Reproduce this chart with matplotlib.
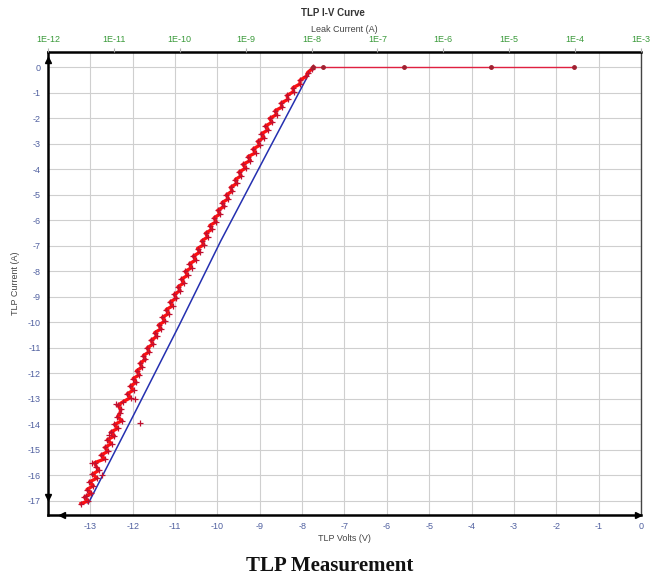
import matplotlib
matplotlib.use("Agg")
import matplotlib.pyplot as plt
from matplotlib.ticker import FixedLocator, FixedFormatter

plt.rcParams["axes.unicode_minus"] = False
plt.rcParams["font.family"] = ["Liberation Sans", "DejaVu Sans"]

# blue reference line (V, A)
blue_volts = [-13.05, -12.0, -10.9, -9.92, -8.78, -7.76]
blue_amps = [-17.1, -13.7, -10.1, -6.8, -3.2, 0.0]

# red measured TLP points (V, A)
red_volts = [
    -13.22, -13.05, -13.14, -12.98, -13.08, -12.93, -13.02, -12.84, -12.95, -12.80,
    -12.86, -12.90, -12.66, -12.75, -12.58, -12.66, -12.50, -12.60, -12.43, -12.52,
    -12.35, -12.43, -12.25, -12.36, -12.30, -12.28, -12.35, -12.22, -12.05, -12.13,
    -11.98, -12.06, -11.92, -11.99, -11.84, -11.91, -11.78, -11.83, -11.70, -11.75,
    -11.61, -11.66, -11.52, -11.57, -11.43, -11.48, -11.33, -11.39, -11.24, -11.30,
    -11.15, -11.21, -11.06, -11.12, -10.97, -11.02, -10.88, -10.93, -10.79, -10.85,
    -10.70, -10.76, -10.61, -10.66, -10.51, -10.57, -10.42, -10.47, -10.32, -10.37,
    -10.23, -10.28, -10.13, -10.18, -10.03, -10.08, -9.94, -9.99, -9.84, -9.89,
    -9.74, -9.79, -9.65, -9.69, -9.54, -9.58, -9.44, -9.49, -9.33, -9.40,
    -9.22, -9.28, -9.10, -9.16, -9.00, -9.05, -8.90, -8.96, -8.80, -8.87,
    -8.71, -8.77, -8.60, -8.64, -8.47, -8.50, -8.33, -8.36, -8.20, -8.22,
    -8.05, -8.05, -7.90, -7.87, -7.76, -7.74,
]
red_amps = [
    -17.10, -17.00, -16.85, -16.70, -16.55, -16.40, -16.25, -16.10, -15.95, -15.80,
    -15.65, -15.50, -15.35, -15.20, -15.05, -14.90, -14.75, -14.60, -14.45, -14.30,
    -14.15, -14.00, -13.85, -13.70, -13.55, -13.40, -13.25, -13.10, -12.95, -12.80,
    -12.65, -12.50, -12.35, -12.20, -12.05, -11.90, -11.75, -11.60, -11.45, -11.30,
    -11.15, -11.00, -10.85, -10.70, -10.55, -10.40, -10.25, -10.10, -9.95, -9.80,
    -9.65, -9.50, -9.35, -9.20, -9.05, -8.90, -8.75, -8.60, -8.45, -8.30,
    -8.15, -8.00, -7.85, -7.70, -7.55, -7.40, -7.25, -7.10, -6.95, -6.80,
    -6.65, -6.50, -6.35, -6.20, -6.05, -5.90, -5.75, -5.60, -5.45, -5.30,
    -5.15, -5.00, -4.85, -4.70, -4.55, -4.40, -4.25, -4.10, -3.95, -3.80,
    -3.65, -3.50, -3.35, -3.20, -3.05, -2.90, -2.75, -2.60, -2.45, -2.30,
    -2.15, -2.00, -1.85, -1.70, -1.55, -1.40, -1.25, -1.10, -0.95, -0.80,
    -0.65, -0.50, -0.35, -0.20, -0.05, 0.00,
]

# scattered stray points near the bottom
stray_volts = [-11.83, -12.40, -12.72, -12.97, -12.55, -11.95, -13.10]
stray_amps = [-13.93, -13.20, -16.00, -15.50, -14.40, -13.00, -16.80]

# flat leakage segment at 0 A
leak_volts = [-7.74, -7.5, -5.59, -3.55, -1.58]
leak_amps = [0.0, 0.0, 0.0, 0.0, 0.0]

volt_ticks = list(range(-13, 1))
amp_ticks = list(range(-17, 1))
leak_ticks = [1e-12, 1e-11, 1e-10, 1e-9, 1e-8, 1e-7, 1e-6, 1e-5, 1e-4, 1e-3]
leak_labels = ["1E-12", "1E-11", "1E-10", "1E-9", "1E-8", "1E-7", "1E-6", "1E-5", "1E-4", "1E-3"]

fig = plt.figure(figsize=(6.52, 5.83), dpi=100)
ax = fig.add_axes([0.0736, 0.1166, 0.9095, 0.794])

ax.set_xlim(-14, 0)
ax.set_ylim(-17.55, 0.6)
ax.set_xticks(volt_ticks)
ax.set_yticks(amp_ticks)
ax.grid(True, color="#cfcfcf", lw=0.8)
ax.set_axisbelow(True)

ax.plot(blue_volts, blue_amps, color="#2530b0", lw=1.1, zorder=3)
ax.plot(red_volts, red_amps, color="#ff1010", lw=2.4, marker="+", ms=4,
        mec="#c01030", mew=0.9, zorder=4)
ax.plot(stray_volts, stray_amps, ls="none", marker="+", ms=4,
        mec="#c01030", mew=0.9, zorder=4)
ax.plot(leak_volts, leak_amps, color="#e02040", lw=1.0, marker="o", ms=2.5,
        mfc="#a02030", mec="#a02030", zorder=4)

for side in ("left", "bottom", "top"):
    ax.spines[side].set_linewidth(1.8)
    ax.spines[side].set_color("black")
ax.spines["right"].set_linewidth(1.0)
ax.spines["right"].set_color("#444444")

ax.tick_params(axis="both", length=0, labelsize=6.5, colors="#5060a0", pad=5)
ax.set_xlabel("TLP Volts (V)", fontsize=6.5, color="#444444", labelpad=2)
ax.set_ylabel("TLP Current (A)", fontsize=6.5, color="#444444", labelpad=6)

# little arrow heads on the axis lines
kw = dict(transform=ax.transAxes, clip_on=False, color="black", ms=5, zorder=6)
ax.plot([0.0], [0.983], marker="^", **kw)
ax.plot([0.0], [0.04], marker="v", **kw)
ax.plot([0.024], [0.0], marker="<", **kw)
ax.plot([0.995], [0.0], marker=">", **kw)

top = ax.twiny()
top.set_xscale("log")
top.set_xlim(1e-12, 1e-3)
top.xaxis.set_major_locator(FixedLocator(leak_ticks))
top.xaxis.set_major_formatter(FixedFormatter(leak_labels))
top.xaxis.set_minor_locator(FixedLocator([]))
top.tick_params(axis="x", length=3, color="#aaaaaa", labelsize=6.5,
                labelcolor="#3a9a3a", pad=3)
top.set_xlabel("Leak Current (A)", fontsize=6.5, color="#444444", labelpad=2)
for s in top.spines.values():
    s.set_visible(False)

fig.text(0.51, 0.978, "TLP I-V Curve", ha="center", va="center",
         fontsize=7, fontweight="bold", color="#333333")
fig.text(0.505, 0.03, "TLP Measurement", ha="center", va="center",
         fontsize=15, fontweight="bold", family="Liberation Serif", color="#111111")

fig.savefig("out.png", dpi=100)
